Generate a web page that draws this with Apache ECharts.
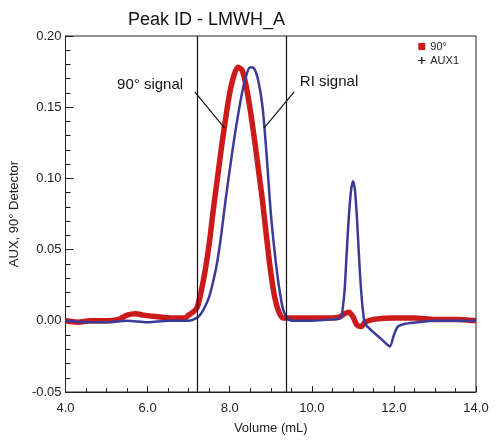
<!DOCTYPE html>
<html><head><meta charset="utf-8">
<script src="https://cdn.jsdelivr.net/npm/echarts@6/dist/echarts.min.js"></script>
<style>html,body{margin:0;padding:0;background:#fff}#c{width:500px;height:443px}</style>
</head><body><div id="c"></div>
<script>
const titleText = 'Peak ID - LMWH_A';
const seriesNames = ['90°', 'AUX1'];
const xTicks = [4, 6, 8, 10, 12, 14];
const yTicks = [-0.05, 0, 0.05, 0.10, 0.15, 0.20];
const markerVolumes = [7.2, 9.37];

// 90° detector signal [volume mL, response]
const signal90 = [
  [4.0,0.000],[4.3,-0.001],[4.6,0.000],[5.0,0.000],[5.3,0.001],[5.5,0.004],[5.7,0.005],[5.9,0.004],
  [6.2,0.003],[6.6,0.002],[6.9,0.002],[7.0,0.004],[7.1,0.006],[7.2,0.009],[7.3,0.020],[7.4,0.035],
  [7.5,0.054],[7.6,0.078],[7.7,0.100],[7.8,0.122],[7.9,0.142],[8.0,0.160],[8.1,0.172],[8.2,0.178],
  [8.3,0.176],[8.4,0.165],[8.5,0.148],[8.6,0.128],[8.7,0.106],[8.8,0.084],[8.9,0.058],[9.0,0.034],
  [9.1,0.016],[9.2,0.006],[9.3,0.002],[9.5,0.002],[10.0,0.002],[10.5,0.002],[10.7,0.003],[10.8,0.005],
  [10.9,0.006],[11.0,0.003],[11.1,-0.003],[11.2,-0.004],[11.3,-0.001],[11.5,0.001],[12.0,0.002],
  [12.5,0.002],[13.0,0.001],[13.5,0.001],[14.0,0.000]
];
// AUX1 (RI) signal [volume mL, response]
const signalAux = [
  [4.0,0.000],[4.5,-0.001],[5.0,-0.001],[5.5,0.000],[6.0,-0.001],[6.5,0.000],[7.0,0.000],[7.2,0.002],
  [7.3,0.005],[7.4,0.010],[7.5,0.017],[7.6,0.028],[7.7,0.042],[7.8,0.062],[7.9,0.085],[8.0,0.106],
  [8.1,0.126],[8.2,0.144],[8.3,0.160],[8.4,0.172],[8.5,0.178],[8.6,0.177],[8.7,0.168],
  [8.8,0.150],[8.9,0.116],[9.0,0.076],[9.1,0.047],[9.2,0.024],[9.3,0.008],[9.4,0.002],[9.5,0.000],
  [10.0,0.000],[10.5,0.001],[10.7,0.002],[10.75,0.008],[10.8,0.022],[10.85,0.048],[10.9,0.072],
  [10.95,0.090],[11.0,0.098],[11.05,0.092],[11.1,0.072],[11.15,0.045],[11.2,0.022],[11.25,0.006],
  [11.3,-0.002],[11.5,-0.008],[11.7,-0.013],[11.85,-0.017],[11.9,-0.018],[12.0,-0.010],
  [12.1,-0.004],[12.3,-0.002],[12.6,-0.001],[13.0,0.000],[14.0,0.000]
];
// annotation callouts: label, label position, leader line start, leader line end
const callouts = [
  {text:'90° signal', at:[6.06,0.1656], from:[7.15,0.1607], to:[7.87,0.1355]},
  {text:'RI signal',  at:[10.42,0.1677], from:[9.57,0.1607], to:[8.84,0.1355]}
];

const FONT = '"Liberation Sans", Arial, sans-serif';
const RED = '#cc1a1a', BLUE = '#3a3a98';
const plus = 'path://M0,5L10,5M5,0L5,10Z';

const chart = echarts.init(document.getElementById('c'));
chart.setOption({
  animation:false,
  textStyle:{fontFamily:FONT},
  title:{text:titleText,left:123,top:6,textStyle:{fontSize:18,fontWeight:'normal',color:'#111',fontFamily:FONT}},
  legend:{orient:'vertical',right:36,top:36,itemGap:3,itemWidth:7,itemHeight:7,
    textStyle:{fontSize:11,color:'#222',fontFamily:FONT},
    data:[{name:seriesNames[0],icon:'rect',itemStyle:{color:RED}},
          {name:seriesNames[1],icon:plus,itemStyle:{color:'transparent',borderColor:'#222',borderWidth:1}}]},
  grid:{left:63,right:24,top:36,bottom:51,show:true,borderColor:'#222',borderWidth:1},
  xAxis:{type:'value',min:xTicks[0],max:xTicks[xTicks.length-1],interval:2,
    name:'Volume (mL)',nameLocation:'middle',nameGap:30,nameTextStyle:{fontSize:13,color:'#222'},
    axisLine:{onZero:false,lineStyle:{color:'#222'}},
    axisTick:{inside:true,length:6,lineStyle:{color:'#222'}},
    minorTick:{show:true,splitNumber:4,length:4,lineStyle:{color:'#222'}},
    axisLabel:{fontSize:13,color:'#222',margin:10,formatter:v=>v.toFixed(1)},
    splitLine:{show:false}},
  yAxis:{type:'value',min:yTicks[0],max:yTicks[yTicks.length-1],interval:0.05,
    name:'AUX, 90° Detector',nameLocation:'middle',nameGap:38,nameTextStyle:{fontSize:13,color:'#222'},
    axisLine:{onZero:false,lineStyle:{color:'#222'}},
    axisTick:{inside:true,length:8,lineStyle:{color:'#222'}},
    minorTick:{show:true,splitNumber:5,length:5,lineStyle:{color:'#222'}},
    axisLabel:{fontSize:13,color:'#222',margin:4,formatter:v=>v.toFixed(2)},
    splitLine:{show:false}},
  series:[
    {name:seriesNames[0],type:'line',data:signal90,showSymbol:false,smooth:0.3,
     lineStyle:{color:RED,width:5.5},itemStyle:{color:RED},z:2,
     markLine:{silent:true,symbol:'none',label:{show:false},lineStyle:{color:'#111',width:1.2,type:'solid'},
       data:markerVolumes.map(v=>({xAxis:v})).concat(callouts.map(c=>[{coord:c.from},{coord:c.to}]))},
     markPoint:{symbolSize:0,silent:true,
       data:callouts.map(c=>({coord:c.at,value:c.text})),
       label:{show:true,position:'inside',formatter:p=>p.value,fontSize:15,color:'#111',fontFamily:FONT}}},
    {name:seriesNames[1],type:'line',data:signalAux,showSymbol:false,smooth:0.3,
     lineStyle:{color:BLUE,width:2.5},itemStyle:{color:BLUE},z:3}
  ]
});
</script></body></html>
